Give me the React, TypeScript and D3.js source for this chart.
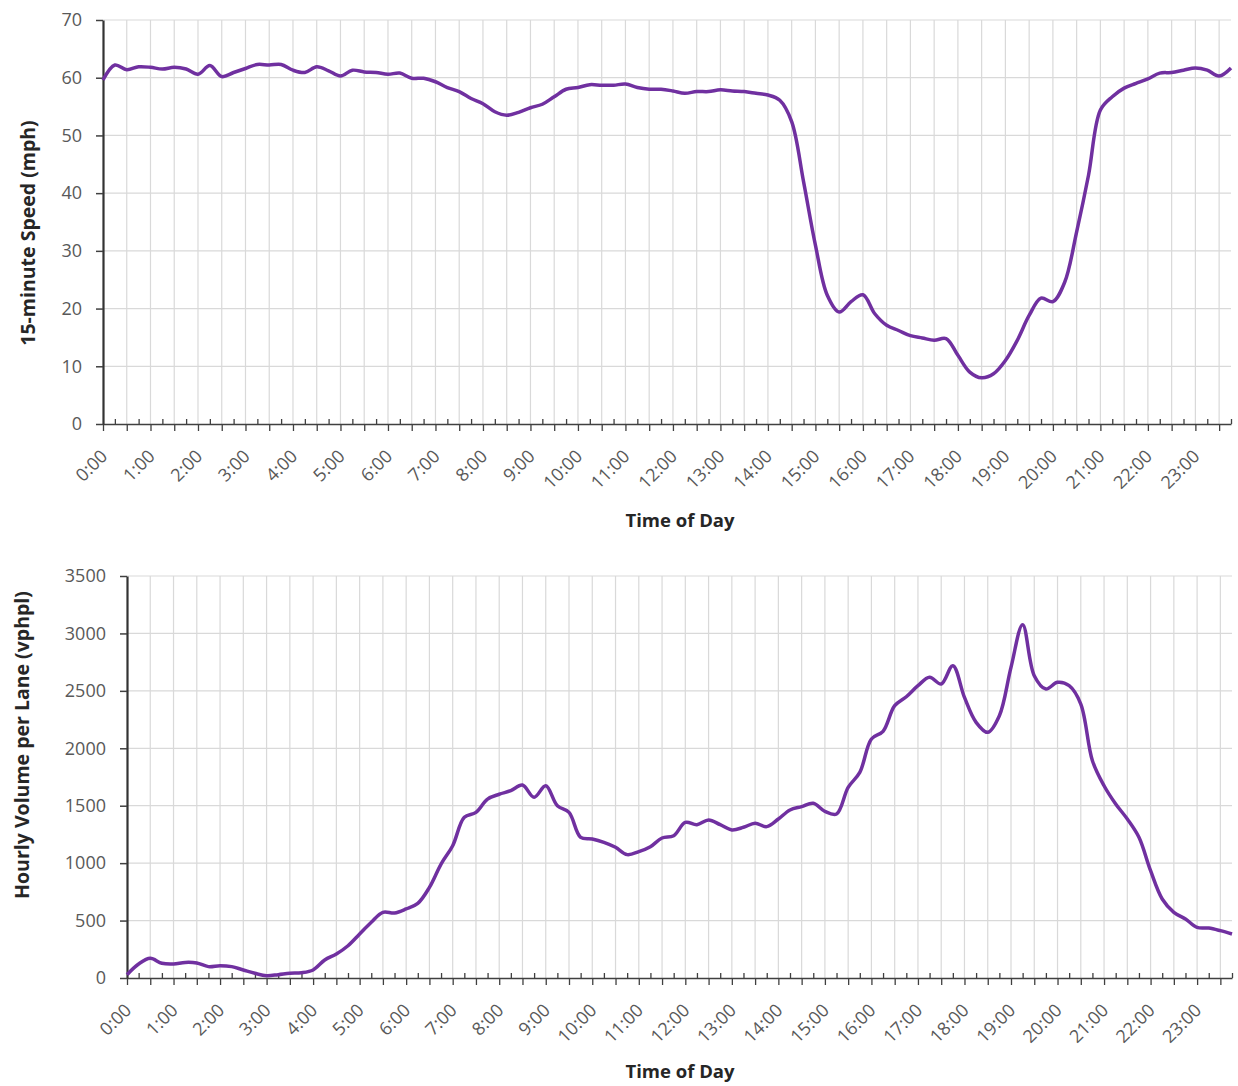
import { useEffect, useRef } from "react";
import * as d3 from "d3";

// 15-minute slots across the day, 0:00 .. 23:45
const quarterHours = d3.range(96).map(
  i => `${Math.floor(i / 4)}:${String((i % 4) * 15).padStart(2, "0")}`
);

const hourLabels = [
  "0:00", "1:00", "2:00", "3:00", "4:00", "5:00", "6:00", "7:00",
  "8:00", "9:00", "10:00", "11:00", "12:00", "13:00", "14:00", "15:00",
  "16:00", "17:00", "18:00", "19:00", "20:00", "21:00", "22:00", "23:00",
];

const speedMph = [
  59.6, 62.2, 61.4, 61.9, 61.8, 61.5, 61.8, 61.5, 60.6, 62.1, 60.2, 60.9,
  61.6, 62.3, 62.2, 62.3, 61.3, 60.9, 61.9, 61.2, 60.3, 61.3, 61.0, 60.9,
  60.6, 60.8, 59.9, 59.9, 59.3, 58.3, 57.6, 56.4, 55.5, 54.1, 53.5, 54.0,
  54.8, 55.4, 56.7, 58.0, 58.3, 58.8, 58.7, 58.7, 58.9, 58.3, 58.0, 58.0,
  57.7, 57.3, 57.6, 57.6, 57.9, 57.7, 57.6, 57.3, 57.0, 56.1, 52.4, 42.0,
  31.0, 22.3, 19.4, 21.2, 22.4, 19.1, 17.1, 16.2, 15.3, 14.9, 14.5, 14.8,
  11.9, 9.0, 8.0, 8.7, 11.0, 14.5, 18.8, 21.8, 21.2, 24.6, 33.3, 43.1,
  54.4, 56.7, 58.2, 59.0, 59.8, 60.8, 60.9, 61.3, 61.7, 61.3, 60.3, 61.7,
];

const volumeVphpl = [
  29, 122, 171, 128, 122, 136, 131, 99, 107, 99, 70, 41,
  20, 29, 41, 46, 70, 157, 209, 281, 383, 485, 572, 566,
  601, 650, 789, 992, 1152, 1399, 1442, 1558, 1600, 1631, 1680, 1573,
  1674, 1500, 1442, 1225, 1210, 1181, 1138, 1074, 1100, 1143, 1219, 1239,
  1355, 1335, 1376, 1335, 1289, 1312, 1347, 1318, 1384, 1463, 1492, 1521,
  1451, 1428, 1660, 1790, 2081, 2148, 2371, 2449, 2545, 2618, 2560, 2719,
  2443, 2226, 2139, 2284, 2705, 3076, 2632, 2516, 2574, 2545, 2385, 1892,
  1674, 1515, 1384, 1225, 934, 688, 572, 514, 441, 435, 412, 383,
];

const speedTicks = [0, 10, 20, 30, 40, 50, 60, 70];
const volumeTicks = [0, 500, 1000, 1500, 2000, 2500, 3000, 3500];

interface Panel {
  values: number[];
  yTicks: number[];
  yTitle: string;
  left: number;
  right: number;
  top: number;
  bottom: number;
  yTitleX: number;
  yTitleY: number;
  xTitleY: number;
}

const panels: Panel[] = [
  {
    values: speedMph, yTicks: speedTicks, yTitle: "15-minute Speed (mph)",
    left: 103, right: 1231, top: 20, bottom: 424,
    yTitleX: 28, yTitleY: 233, xTitleY: 521,
  },
  {
    values: volumeVphpl, yTicks: volumeTicks, yTitle: "Hourly Volume per Lane (vphpl)",
    left: 127, right: 1232, top: 576, bottom: 978,
    yTitleX: 22, yTitleY: 745, xTitleY: 1072,
  },
];

const FONT = "'Open Sans', 'Segoe UI', sans-serif";

function drawPanel(svg: d3.Selection<SVGSVGElement, unknown, null, undefined>, p: Panel) {
  const x = d3.scalePoint<string>().domain(quarterHours).range([p.left, p.right]);
  const y = d3.scaleLinear().domain([0, d3.max(p.yTicks)!]).range([p.bottom, p.top]);

  const halfHours = quarterHours.filter((_, i) => i % 2 === 0);
  const offHalf = quarterHours.filter((_, i) => i % 2 === 1);
  const g = svg.append("g");

  // gridlines
  g.append("g")
    .selectAll("line")
    .data(p.yTicks.filter(t => t > 0))
    .join("line")
    .attr("x1", p.left).attr("x2", p.right)
    .attr("y1", d => y(d)).attr("y2", d => y(d))
    .attr("stroke", "#d9d9d9").attr("stroke-width", 1.2);

  g.append("g")
    .selectAll("line")
    .data(halfHours.slice(1))
    .join("line")
    .attr("x1", d => x(d)!).attr("x2", d => x(d)!)
    .attr("y1", p.top).attr("y2", p.bottom)
    .attr("stroke", "#d9d9d9").attr("stroke-width", 1.2);

  // x axis: major ticks down every 30 min, minor ticks up in between
  const xAxis = g.append("g")
    .attr("transform", `translate(0,${p.bottom})`)
    .call(d3.axisBottom(x).tickValues(halfHours).tickSize(7).tickSizeOuter(0).tickFormat(() => ""));
  xAxis.select(".domain").attr("stroke", "#404040").attr("stroke-width", 1.6);
  xAxis.selectAll(".tick line").attr("stroke", "#404040").attr("stroke-width", 1.3);

  const minor = g.append("g")
    .attr("transform", `translate(0,${p.bottom})`)
    .call(d3.axisBottom(x).tickValues(offHalf).tickSize(-5).tickSizeOuter(0).tickFormat(() => ""));
  minor.select(".domain").remove();
  minor.selectAll(".tick line").attr("stroke", "#404040").attr("stroke-width", 1.3);

  g.append("g")
    .selectAll("text")
    .data(hourLabels)
    .join("text")
    .attr("transform", d => `translate(${x(d)! + 1},${p.bottom + 29}) rotate(-45)`)
    .attr("text-anchor", "end")
    .attr("dy", "0.35em")
    .attr("font-family", FONT)
    .attr("font-size", 18)
    .attr("fill", "#595959")
    .text(d => d);

  // y axis
  const yAxis = g.append("g")
    .attr("transform", `translate(${p.left},0)`)
    .call(d3.axisLeft(y).tickValues(p.yTicks).tickSize(7).tickSizeOuter(0).tickPadding(14).tickFormat(d3.format("d")));
  yAxis.select(".domain").attr("stroke", "#333").attr("stroke-width", 2.2);
  yAxis.selectAll(".tick line").attr("stroke", "#404040").attr("stroke-width", 1.5);
  yAxis.selectAll(".tick text")
    .attr("font-family", FONT).attr("font-size", 18).attr("fill", "#595959");

  // series
  const line = d3.line<number>()
    .x((_, i) => x(quarterHours[i])!)
    .y(d => y(d))
    .curve(d3.curveCatmullRom.alpha(0.5));

  g.append("path")
    .datum(p.values)
    .attr("d", line)
    .attr("fill", "none")
    .attr("stroke", "#7030a0")
    .attr("stroke-width", 3.5)
    .attr("stroke-linejoin", "round");

  // titles
  g.append("text")
    .attr("transform", `translate(${p.yTitleX},${p.yTitleY}) rotate(-90)`)
    .attr("text-anchor", "middle")
    .attr("dy", "0.35em")
    .attr("font-family", FONT).attr("font-weight", "bold").attr("font-size", 19.5)
    .attr("fill", "#262626")
    .text(p.yTitle);

  g.append("text")
    .attr("x", 680).attr("y", p.xTitleY)
    .attr("text-anchor", "middle")
    .attr("dy", "0.35em")
    .attr("font-family", FONT).attr("font-weight", "bold").attr("font-size", 18.5)
    .attr("fill", "#262626")
    .text("Time of Day");
}

export default function App() {
  const ref = useRef<SVGSVGElement | null>(null);

  useEffect(() => {
    if (!ref.current) return;
    const svg = d3.select(ref.current);
    svg.selectAll("*").remove();
    panels.forEach(p => drawPanel(svg, p));
  }, []);

  return (
    <svg
      ref={ref}
      width={1238}
      height={1086}
      style={{ position: "absolute", left: 0, top: 0, background: "#fff" }}
    />
  );
}
